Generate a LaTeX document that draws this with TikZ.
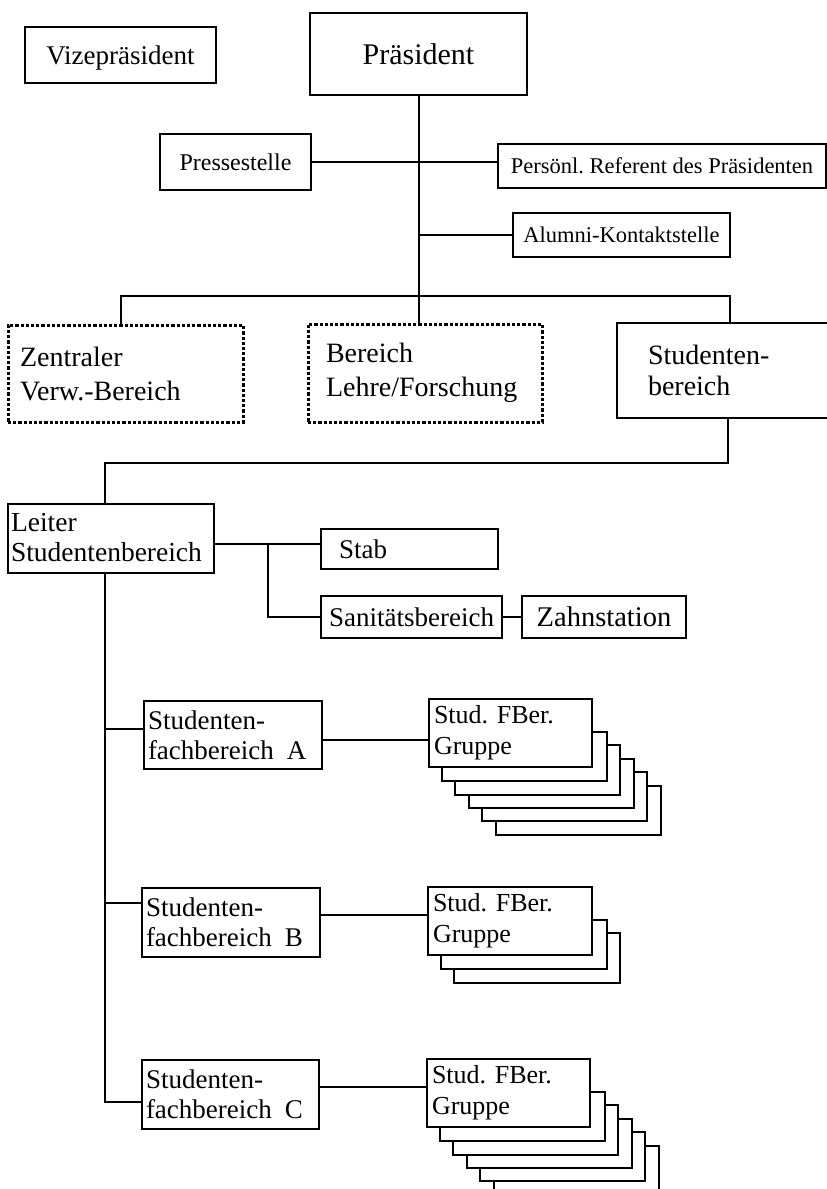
\documentclass[tikz,border=0pt]{standalone}
\usepackage{fontspec}
\setmainfont{Liberation Serif}
\usetikzlibrary{calc}
\newcommand\fsz[2]{\fontsize{#1}{#2}\selectfont\frenchspacing}
\begin{document}
\begin{tikzpicture}[x=1pt,y=-1pt,
  box/.style={draw, line width=2pt, inner sep=0pt},
  sbox/.style={box, text depth=0pt},
  dbox/.style={box, line width=3pt, dash pattern=on 3.2pt off 2pt},
  conn/.style={line width=2pt}]
\useasboundingbox (0,0) rectangle (827,1189);
\clip (0,0) rectangle (827,1189);

% top level
\node[sbox, minimum width=191pt, minimum height=56pt, font=\fsz{27}{30}] (vize) at (120.5,55) {Vizepräsident};
\node[sbox, minimum width=217pt, minimum height=82pt, font=\fsz{30}{34}] (pres) at (418.5,54) {Präsident};
\node[sbox, minimum width=151pt, minimum height=56pt, font=\fsz{24}{28}] (presse) at (235.5,162) {Pressestelle};
\node[sbox, minimum width=328pt, minimum height=44pt, font=\fsz{22.5}{26}] (pers) at (662,166) {Persönl. Referent des Präsidenten};
\node[sbox, minimum width=217pt, minimum height=44pt, font=\fsz{22.5}{26}] (alumni) at (621.5,235) {Alumni-Kontaktstelle};

% second level
\node[dbox, align=left, inner xsep=12pt, text width=211pt, minimum height=97pt, font=\fsz{28}{34}] (zentral) at (125.5,373.5) {Zentraler\\Verw.-Bereich};
\node[dbox, align=left, inner xsep=18pt, text width=198pt, minimum height=98pt, font=\fsz{28}{34}] (bereich) at (425,373) {Bereich\\Lehre/Forschung};
\node[box, align=left, inner xsep=31pt, text width=221pt, minimum height=95pt, font=\fsz{28}{31}] (studb) at (758.5,370.5) {Studenten-\\bereich};

% Studentenbereich
\node[box, align=left, inner xsep=3pt, text width=200pt, minimum height=69pt, font=\fsz{27.5}{30}] (leiter) at (111,538) {Leiter\\Studentenbereich};
\node[sbox, align=left, inner xsep=18pt, text width=141pt, minimum height=40pt, font=\fsz{27}{30}] (stab) at (409.5,549) {Stab};
\node[sbox, minimum width=181pt, minimum height=42pt, font=\fsz{27}{30}] (sani) at (411.5,617) {Sanitätsbereich};
\node[sbox, minimum width=164pt, minimum height=42pt, font=\fsz{28.5}{30}] (zahn) at (604,617) {Zahnstation};

\node[box, align=left, inner xsep=4pt, text width=170pt, minimum height=68pt, font=\fsz{27}{30}] (sfbA) at (233,735) {Studenten-\\fachbereich\hspace{13pt}A};
\node[box, align=left, inner xsep=4pt, text width=170pt, minimum height=69pt, font=\fsz{27}{30}] (sfbB) at (231,922.5) {Studenten-\\fachbereich\hspace{13pt}B};
\node[box, align=left, inner xsep=4pt, text width=169pt, minimum height=69pt, font=\fsz{27}{30}] (sfbC) at (230.5,1094.5) {Studenten-\\fachbereich\hspace{13pt}C};

\node[box, align=left, inner xsep=5pt, text width=153pt, minimum height=68pt, font=\fsz{26}{31}] (grpA) at (510.5,733) {Stud. FBer.\\Gruppe};
\node[box, align=left, inner xsep=5pt, text width=154pt, minimum height=68pt, font=\fsz{26}{31}] (grpB) at (510,921) {Stud. FBer.\\Gruppe};
\node[box, align=left, inner xsep=5pt, text width=153pt, minimum height=68pt, font=\fsz{26}{31}] (grpC) at (508.5,1093) {Stud. FBer.\\Gruppe};

% stacked sheets behind the group boxes
\foreach \g/\n in {grpA/5, grpB/2, grpC/5}{
  \foreach \i in {1,...,\n}{
    \draw[conn] ($(\g.north east)+({13.5*(\i-1)},{13.5*\i+20})$)
      -- ($(\g.north east)+({13.5*\i},{13.5*\i+20})$)
      -- ($(\g.south east)+({13.5*\i},{13.3*\i})$)
      -- ($(\g.south west)+({13.5*\i},{13.3*\i})$)
      -- ($(\g.south west)+({13.5*\i},{13.3*(\i-1)})$);
  }
}

% connectors
\coordinate (busL) at (121,296);
\coordinate (busR) at (730,296);
\coordinate (b2R) at (728,463);
\coordinate (b2L) at (105,463);
\coordinate (j1) at (268,544);
\coordinate (cA) at (105,729);
\coordinate (cB) at (105,903);
\coordinate (cC) at (105,1102);
\coordinate (lA) at (0,740);
\coordinate (lB) at (0,915);
\coordinate (lC) at (0,1087);

\draw[conn] (pres.south) -- (pres.south |- bereich.north);
\draw[conn] (presse.east) -- (presse.east -| pers.west);
\draw[conn] (alumni.west) -- (alumni.west -| pres.south);
\draw[conn] (zentral.north -| busL) -- (busL) -- (busR) -- (busR |- studb.north);
\draw[conn] (studb.south -| b2R) -- (b2R) -- (b2L) -- (b2L |- leiter.north);
\draw[conn] (leiter.east |- j1) -- (j1 -| stab.west);
\draw[conn] (j1) |- (sani.west);
\draw[conn] (sani.east) -- (zahn.west);
\draw[conn] (leiter.south -| cA) -- (cC) -- (cC -| sfbC.west);
\draw[conn] (cA) -- (cA -| sfbA.west);
\draw[conn] (cB) -- (cB -| sfbB.west);
\draw[conn] (sfbA.east |- lA) -- (grpA.west |- lA);
\draw[conn] (sfbB.east |- lB) -- (grpB.west |- lB);
\draw[conn] (sfbC.east |- lC) -- (grpC.west |- lC);
\end{tikzpicture}
\end{document}
